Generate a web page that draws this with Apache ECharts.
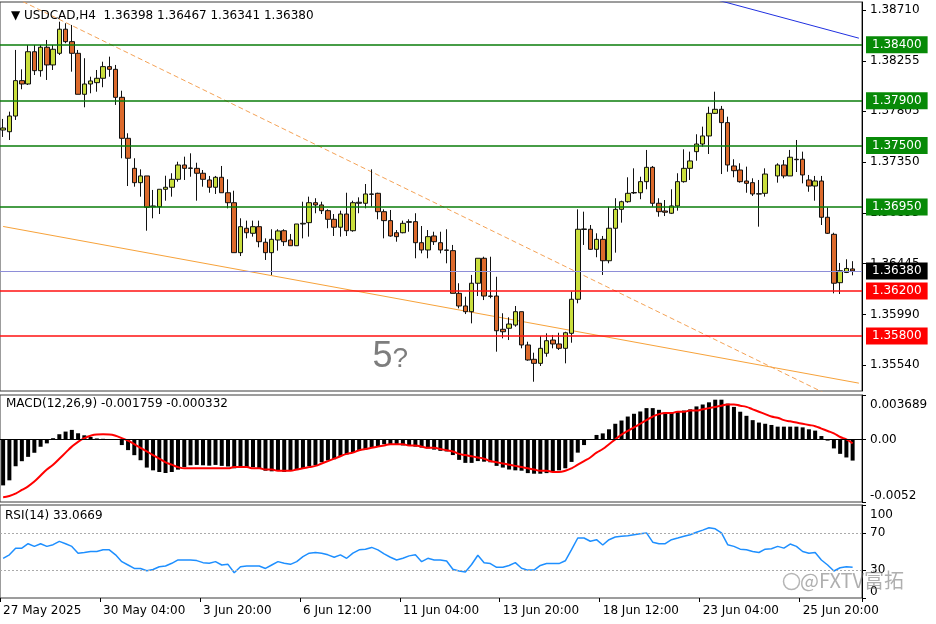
<!DOCTYPE html>
<html><head><meta charset="utf-8">
<script src="https://cdn.jsdelivr.net/npm/echarts@6/dist/echarts.min.js"></script>
<style>html,body{margin:0;padding:0;background:#fff}#c{width:936px;height:624px}</style>
</head><body><div id="c"></div>
<script>
const symbolTitle = 'USDCAD,H4';
const headerOHLC = ['1.36398', '1.36467', '1.36341', '1.36380'];
const timeLabels = ['27 May 2025', '30 May 04:00', '3 Jun 20:00', '6 Jun 12:00', '11 Jun 04:00', '13 Jun 20:00', '18 Jun 12:00', '23 Jun 04:00', '25 Jun 20:00'];
const barsPerLabel = 16;
const slotCount = 138;

const openP = [1.37638,1.37623,1.37763,1.38079,1.38049,1.38337,1.38168,1.38377,1.38219,1.38323,
1.38538,1.38427,1.38323,1.37957,1.38049,1.38061,1.38100,1.38204,1.38180,1.37930,
1.37564,1.37296,1.37168,1.37228,1.36953,1.36953,1.37109,1.37127,1.37198,1.37326,
1.37299,1.37296,1.37252,1.37192,1.37127,1.37216,1.37078,1.36989,1.36543,1.36761,
1.36716,1.36775,1.36636,1.36543,1.36656,1.36739,1.36656,1.36605,1.36799,1.36811,
1.36989,1.36969,1.36918,1.36841,1.36770,1.36888,1.36739,1.36984,1.36984,1.37067,
1.37073,1.36909,1.36829,1.36721,1.36721,1.36814,1.36820,1.36632,1.36567,1.36692,
1.36632,1.36567,1.36561,1.36180,1.36067,1.36016,1.36270,1.36493,1.36156,1.36156,
1.35859,1.35868,1.35897,1.36016,1.35719,1.35591,1.35555,1.35645,1.35763,1.35728,
1.35689,1.35823,1.36127,1.36750,1.36752,1.36573,1.36662,1.36471,1.36761,1.36930,
1.36998,1.37080,1.37078,1.37177,1.37305,1.36984,1.36915,1.36895,1.36960,1.37177,
1.37296,1.37445,1.37513,1.37585,1.37787,1.37823,1.37704,1.37317,1.37281,1.37183,
1.37168,1.37066,1.37073,null,1.37228,1.37326,1.37228,1.37377,1.37377,1.37192,
1.37138,1.37183,1.36859,1.36707,1.36275,1.36366,1.36398];
const closeP = [1.37656,1.37763,1.38079,1.38049,1.38337,1.38168,1.38377,1.38219,1.38359,1.38538,
1.38427,1.38323,1.37957,1.38049,1.38076,1.38100,1.38204,1.38180,1.37930,1.37564,
1.37386,1.37168,1.37228,1.36948,1.36960,1.37109,1.37127,1.37198,1.37326,1.37296,
1.37296,1.37252,1.37198,1.37127,1.37216,1.37078,1.36989,1.36543,1.36775,1.36721,
1.36775,1.36641,1.36543,1.36662,1.36737,1.36641,1.36605,1.36799,1.36805,1.36989,
1.36969,1.36918,1.36841,1.36770,1.36888,1.36739,1.36989,1.36993,1.37067,1.37064,
1.36909,1.36829,1.36692,1.36686,1.36805,1.36820,1.36632,1.36567,1.36686,1.36641,
1.36567,1.36564,1.36180,1.36067,1.36016,1.36270,1.36493,1.36156,1.36153,1.35846,
1.35837,1.35906,1.36016,1.35719,1.35585,1.35555,1.35689,1.35757,1.35728,1.35689,
1.35828,1.36127,1.36752,1.36755,1.36573,1.36662,1.36471,1.36761,1.36930,1.36998,
1.37073,1.37076,1.37177,1.37305,1.36984,1.36909,1.36904,1.36960,1.37177,1.37296,
1.37362,1.37513,1.37585,1.37787,1.37823,1.37704,1.37326,1.37275,1.37177,1.37162,
1.37067,1.37070,1.37245,null,1.37326,1.37228,1.37395,1.37373,1.37237,1.37138,
1.37183,1.36859,1.36716,1.36270,1.36382,1.36402,1.36380];
const lowP = [1.37576,1.37549,1.37728,1.38002,1.38040,1.38129,1.38114,1.38085,1.38174,1.38308,
1.38413,1.38159,1.37957,1.37841,1.37966,1.37980,1.38020,1.38114,1.37862,1.37386,
1.37138,1.37132,1.37043,1.36739,1.36850,1.36888,1.37007,1.37043,1.37177,1.37192,
1.37221,1.37007,1.37132,1.37078,1.37067,1.37078,1.36939,1.36543,1.36513,1.36671,
1.36686,1.36591,1.36478,1.36344,1.36561,1.36603,1.36603,1.36603,1.36671,1.36686,
1.36895,1.36888,1.36761,1.36692,1.36686,1.36692,1.36730,1.36895,1.36939,1.36953,
1.36841,1.36671,1.36686,1.36641,1.36716,1.36730,1.36493,1.36537,1.36493,1.36612,
1.36537,1.36448,1.36180,1.36046,1.35995,1.35912,1.36156,1.36120,1.36136,1.35659,
1.35778,1.35763,1.35882,1.35689,1.35578,1.35391,1.35531,1.35614,1.35689,1.35674,
1.35555,1.35739,1.36091,1.36612,1.36567,1.36502,1.36344,1.36448,1.36543,1.36811,
1.36989,1.37067,1.37020,1.37109,1.36953,1.36864,1.36870,1.36888,1.36918,1.37168,
1.37192,1.37364,1.37489,1.37424,1.37781,1.37245,1.37266,1.37216,1.37168,1.37078,
1.37049,1.36775,1.37043,null,1.37168,1.37207,1.37228,1.37263,1.37162,1.37087,
1.37007,1.36790,1.36710,1.36180,1.36174,1.36361,1.36341];
const highP = [1.37737,1.37802,1.38353,1.38180,1.38397,1.38397,1.38397,1.38442,1.38397,1.38605,
1.38591,1.38576,1.38353,1.38279,1.38114,1.38174,1.38248,1.38293,1.38219,1.37989,
1.37609,1.37386,1.37287,1.37228,1.37103,1.37109,1.37230,1.37252,1.37355,1.37400,
1.37430,1.37346,1.37281,1.37228,1.37228,1.37317,1.37198,1.37096,1.36850,1.36829,
1.36829,1.36829,1.36671,1.36752,1.36752,1.36752,1.36710,1.36799,1.36998,1.37043,
1.37029,1.36998,1.36930,1.36888,1.36918,1.37078,1.37007,1.37037,1.37156,1.37287,
1.37078,1.36930,1.36924,1.36745,1.36829,1.36841,1.36895,1.36781,1.36745,1.36730,
1.36730,1.36752,1.36612,1.36270,1.36150,1.36344,1.36493,1.36507,1.36507,1.36328,
1.36002,1.35966,1.36067,1.36016,1.35748,1.35650,1.35799,1.35823,1.35808,1.35828,
1.35837,1.36195,1.36930,1.36909,1.36790,1.36716,1.36692,1.36953,1.37029,1.37007,
1.37216,1.37296,1.37221,1.37460,1.37317,1.37029,1.37013,1.37109,1.37252,1.37466,
1.37445,1.37600,1.37668,1.37846,1.37980,1.37853,1.37757,1.37377,1.37341,1.37311,
1.37207,1.37192,1.37296,null,1.37341,1.37370,1.37460,1.37549,1.37445,1.37237,
1.37228,1.37228,1.36946,1.36721,1.36451,1.36484,1.36467];

const macdHist = [-0.00382,-0.00340,-0.00223,-0.00181,-0.00145,-0.00111,-0.00061,-0.00033,0.00010,0.00043,
0.00065,0.00079,0.00051,0.00034,0.00020,0.00008,0.00005,0.00003,-0.00005,-0.00047,
-0.00089,-0.00131,-0.00173,-0.00234,-0.00257,-0.00271,-0.00279,-0.00271,-0.00251,-0.00229,
-0.00215,-0.00212,-0.00215,-0.00218,-0.00212,-0.00220,-0.00225,-0.00240,-0.00235,-0.00232,
-0.00230,-0.00245,-0.00260,-0.00265,-0.00262,-0.00270,-0.00262,-0.00255,-0.00240,-0.00222,
-0.00215,-0.00190,-0.00175,-0.00165,-0.00140,-0.00125,-0.00110,-0.00095,-0.00085,-0.00070,
-0.00055,-0.00040,-0.00040,-0.00045,-0.00050,-0.00055,-0.00060,-0.00068,-0.00075,-0.00085,
-0.00095,-0.00100,-0.00130,-0.00170,-0.00195,-0.00195,-0.00180,-0.00185,-0.00190,-0.00220,
-0.00234,-0.00250,-0.00257,-0.00260,-0.00280,-0.00285,-0.00285,-0.00280,-0.00270,-0.00257,
-0.00240,-0.00187,-0.00110,-0.00047,0.00003,0.00037,0.00050,0.00084,0.00130,0.00157,
0.00190,0.00213,0.00232,0.00260,0.00260,0.00246,0.00224,0.00224,0.00230,0.00240,
0.00250,0.00274,0.00290,0.00308,0.00330,0.00330,0.00297,0.00270,0.00230,0.00196,
0.00160,0.00140,0.00130,0.00120,0.00106,0.00106,0.00106,0.00106,0.00100,0.00084,
0.00073,0.00028,-0.00010,-0.00075,-0.00120,-0.00150,-0.001759];
const macdSignal = [-0.0048,-0.0047,-0.0045,-0.0042,-0.0039,-0.0035,-0.0030,-0.0025,-0.0021,-0.0016,
-0.0011,-0.0006,-0.0002,0.0001,0.0003,0.0004,0.00042,0.0004,0.0003,0.0001,
-0.0001,-0.0004,-0.0007,-0.0010,-0.0013,-0.0016,-0.0019,-0.0021,-0.0023,-0.0024,
-0.0024,-0.0024,-0.0024,-0.0024,-0.0024,-0.0024,-0.0024,-0.0023,-0.0023,-0.0023,
-0.0024,-0.0024,-0.0025,-0.0025,-0.0026,-0.0026,-0.0026,-0.0025,-0.0024,-0.0023,
-0.0022,-0.0020,-0.0018,-0.0016,-0.0014,-0.0012,-0.0011,-0.0009,-0.0008,-0.0007,
-0.0006,-0.0005,-0.0004,-0.0004,-0.0004,-0.0005,-0.0005,-0.0006,-0.0007,-0.0007,
-0.0008,-0.0009,-0.0010,-0.0012,-0.0013,-0.0014,-0.0015,-0.0016,-0.0018,-0.0019,
-0.0020,-0.0021,-0.0022,-0.0023,-0.0024,-0.0025,-0.0026,-0.0026,-0.0027,-0.0027,
-0.0026,-0.0024,-0.0021,-0.0018,-0.0015,-0.0011,-0.0008,-0.0004,0.0000,0.0004,
0.0007,0.0010,0.0013,0.0016,0.0019,0.0021,0.0022,0.0022,0.0023,0.0023,
0.0024,0.0024,0.0025,0.0026,0.0027,0.0028,0.0029,0.0029,0.0028,0.0027,
0.0025,0.0023,0.0021,0.0019,0.0018,0.0016,0.0015,0.0014,0.0013,0.0012,
0.0011,0.0009,0.0007,0.0005,0.0002,0.0000,-0.000332];
const rsi14 = [42.7,46.4,53.6,53.6,58.4,55.5,58.4,55.5,57.3,60.9,
58.4,55.5,48.2,48.9,50,50,51.8,51.8,46.4,39.1,
35.5,31.8,31.8,29.3,30.7,33.6,34.4,37.3,40.9,40.9,
40.9,40.2,38,37.3,39.1,35.5,36.2,27.1,33.6,34.4,
34.4,34.4,31.8,35.5,39.1,37.3,36.2,39.1,44.5,48.2,
48.9,48.2,46.4,43.8,46.4,42.7,48.2,51.8,52.5,54.4,
51.8,47.5,43.8,40.9,42.7,45.3,46.4,39.1,42.7,40.9,
40.9,39.8,31,29,28,36,46,38,37,33,
33,35,38,32,30,30,35,37,37,37,
40,52,64.5,64.5,61,62.7,57,62.7,65.6,66.4,
67,68,69,70,60,58.4,58.4,62.7,64.5,66.4,
68,70.7,73,75.5,74.4,70,57.3,55.5,52.5,51.8,
50,48.9,52.5,53,55.5,53.6,58,55.5,50,48.2,
48.9,40.9,35.5,29,32.5,33.6,33.0669];

const priceTicks = [1.38710, 1.38255, 1.37805, 1.37350, 1.36895, 1.36445, 1.35990, 1.35540];
const priceRange = [1.35308, 1.38781];
const greenLevels = [1.38400, 1.37900, 1.37500, 1.36950];
const redLevels = [1.36200, 1.35800];
const bidPrice = 1.36380;
const macdRange = [-0.0052, 0.003689];
const macdTicks = [-0.0052, 0, 0.003689];
const rsiTicks = [0, 30, 70, 100];
const rsiLevels = [30, 70];
const trendBlue = [[114, 1.38804], [137, 1.38458]];
const trendDash = [[2, 1.38816], [137, 1.35140]];
const trendSolid = [[0, 1.36777], [137, 1.35378]];
const noteText = {idx: 62, price: 1.35611, a: '5', b: '?'};

const FONT = 'DejaVu Sans';
const categories = Array.from({length: slotCount}, (_, i) => String(i));
const candleData = openP.map((o, i) => o == null ? '-' : [o, closeP[i], lowP[i], highP[i]]);
const labelIdx = (i) => i % barsPerLabel === 0 && i / barsPerLabel < timeLabels.length;

function levelLine(v, color, lineColor, w) {
  return {yAxis: v, lineStyle: {color: lineColor, width: w, type: 'solid'},
    label: {backgroundColor: color}};
}

const chart = echarts.init(document.getElementById('c'), null, {renderer: 'canvas'});
const gridPrice = {left: 0, top: 2, width: 862, height: 389};
const gridMacd = {left: 0, top: 395, width: 862, height: 107};
const gridRsi = {left: 0, top: 505, width: 862, height: 93};
const gridCommon = {show: true, borderColor: '#3a3a3a', borderWidth: 1, backgroundColor: '#fff'};

function xAx(gi, showLabel) {
  return {type: 'category', gridIndex: gi, data: categories, boundaryGap: true,
    axisLine: {show: false}, splitLine: {show: false},
    axisTick: showLabel ? {show: true, interval: labelIdx, length: 4, lineStyle: {color: '#000'}} : {show: false},
    axisLabel: showLabel ? {show: true, interval: labelIdx, align: 'left', margin: 7, color: '#000', fontSize: 12, fontFamily: FONT,
      formatter: (v, i) => timeLabels[i / barsPerLabel] || ''} : {show: false}};
}
const labelRich = {t: {fontSize: 12, fontFamily: FONT, color: '#000', padding: [4, 0, 0, 0]}};
function yAx(gi, min, max, ticks, fmt, edgeAlign) {
  const lab = {show: true, customValues: ticks, formatter: fmt, margin: 8, color: '#000', fontSize: 12, fontFamily: FONT, rich: labelRich};
  if (edgeAlign) { lab.verticalAlignMinLabel = 'bottom'; lab.verticalAlignMaxLabel = 'top'; }
  return {type: 'value', gridIndex: gi, position: 'right', min: min, max: max, scale: true,
    splitLine: {show: false},
    axisLine: {show: true, lineStyle: {color: '#000'}},
    axisTick: {show: true, length: 4, customValues: ticks, lineStyle: {color: '#000'}},
    axisLabel: lab};
}

const option = {
  animation: false,
  backgroundColor: '#fff',
  title: {text: '\u25BC ' + symbolTitle + '  ' + headerOHLC.join(' '), left: 6, top: 5,
    textStyle: {fontSize: 12, fontWeight: 'normal', color: '#000', fontFamily: FONT}},
  grid: [Object.assign({}, gridCommon, gridPrice), Object.assign({}, gridCommon, gridMacd), Object.assign({}, gridCommon, gridRsi)],
  xAxis: [xAx(0, false), xAx(1, false), xAx(2, true)],
  yAxis: [
    yAx(0, priceRange[0], priceRange[1], priceTicks, v => v.toFixed(5), false),
    yAx(1, macdRange[0], macdRange[1], macdTicks, v => v === 0 ? '0.00' : (v === macdRange[1] ? '{t|' + v + '}' : String(v)), true),
    yAx(2, 0, 100, rsiTicks, v => v === 100 ? '{t|100}' : String(v), true)
  ],
  graphic: [
    {type: 'text', left: 6, top: 398, z: 10, style: {text: 'MACD(12,26,9) ' + macdHist[macdHist.length - 1].toFixed(6) + ' ' + macdSignal[macdSignal.length - 1].toFixed(6), fontSize: 12, fontFamily: FONT, fill: '#000'}},
    {type: 'text', left: 5, top: 510, z: 10, style: {text: 'RSI(14) ' + rsi14[rsi14.length - 1].toFixed(4), fontSize: 12, fontFamily: FONT, fill: '#000'}},
    {type: 'circle', left: 781, top: 571, z: 20, shape: {r: 8}, style: {fill: 'none', stroke: 'rgba(120,120,120,0.55)', lineWidth: 1.5}},
    {type: 'text', left: 800, top: 570, z: 20, style: {text: '@FXTV富拓', fontSize: 20, fontFamily: 'Noto Sans CJK SC', fill: 'rgba(110,110,110,0.55)'}}
  ],
  series: [
    {type: 'line', name: 'trendSolid', xAxisIndex: 0, yAxisIndex: 0, data: trendSolid, symbol: 'none', clip: true, z: 1,
      lineStyle: {color: '#f7a23a', width: 1}, silent: true,
      markLine: {silent: true, symbol: ['none', 'none'], animation: false, precision: 5,
        label: {show: true, position: 'end', distance: 4, color: '#fff', fontSize: 12, fontFamily: FONT, padding: [3, 6, 2, 6],
          formatter: p => Number(p.value).toFixed(5)},
        data: greenLevels.map(v => levelLine(v, '#078a07', '#0a7d0a', 1.6))
          .concat([levelLine(bidPrice, '#000', '#8e8ed8', 1.2)])
          .concat(redLevels.map(v => levelLine(v, '#ff0000', '#ff1010', 1.6)))}},
    {type: 'line', name: 'trendDash', xAxisIndex: 0, yAxisIndex: 0, data: trendDash, symbol: 'none', clip: true, z: 1,
      lineStyle: {color: '#f4a256', width: 1, type: [5, 3]}, silent: true},
    {type: 'line', name: 'trendBlue', xAxisIndex: 0, yAxisIndex: 0, data: trendBlue, symbol: 'none', clip: true, z: 1,
      lineStyle: {color: '#2030e0', width: 1}, silent: true},
    {type: 'candlestick', name: 'USDCAD', xAxisIndex: 0, yAxisIndex: 0, data: candleData, barWidth: 5, z: 3,
      itemStyle: {color: '#c9de3c', color0: '#dc6a2c', borderColor: '#111', borderColor0: '#111', borderWidth: 1},
      markPoint: {silent: true, symbol: 'circle', symbolSize: 0,
        data: [{coord: [noteText.idx, noteText.price],
          label: {show: true, position: 'inside', formatter: '{a|' + noteText.a + '}{b|' + noteText.b + '}',
            rich: {a: {fontSize: 36, color: '#7d7d7d', fontFamily: 'Liberation Sans'}, b: {fontSize: 28, color: '#7d7d7d', fontFamily: 'Liberation Sans', padding: [4, 0, 0, 0]}}}}]}},
    {type: 'bar', name: 'MACD', xAxisIndex: 1, yAxisIndex: 1, data: macdHist, barWidth: 4, itemStyle: {color: '#000'},
      markLine: {silent: true, symbol: ['none', 'none'], label: {show: false}, lineStyle: {color: '#000', width: 1, type: 'solid'}, data: [{yAxis: 0}]}},
    {type: 'line', name: 'Signal', xAxisIndex: 1, yAxisIndex: 1, data: macdSignal, symbol: 'none', smooth: true, z: 4,
      lineStyle: {color: '#ff0000', width: 2}},
    {type: 'line', name: 'RSI', xAxisIndex: 2, yAxisIndex: 2, data: rsi14, symbol: 'none', z: 4,
      lineStyle: {color: '#1e8fff', width: 1.5},
      markLine: {silent: true, symbol: ['none', 'none'], label: {show: false}, lineStyle: {color: '#aaa', width: 1, type: [2, 2]},
        data: rsiLevels.map(v => ({yAxis: v}))}}
  ]
};
chart.setOption(option);
</script></body></html>
